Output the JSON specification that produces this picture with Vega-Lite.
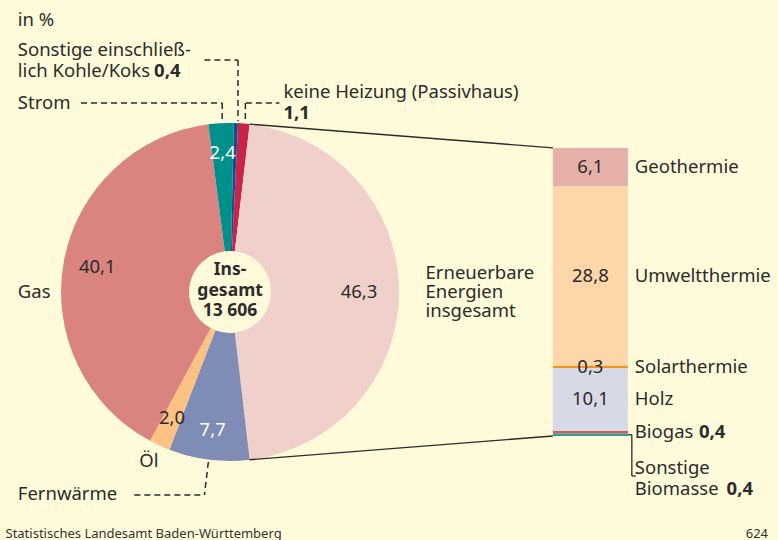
{
  "$schema": "https://vega.github.io/schema/vega-lite/v6.json",
  "width": 778,
  "height": 540,
  "padding": 0,
  "autosize": {"type": "none"},
  "background": "#FFFBDA",
  "config": {
    "view": {"stroke": null},
    "locale": {"number": {"decimal": ",", "thousands": " ", "grouping": [3], "currency": ["", " €"]}},
    "text": {"font": "Noto Sans", "fontSize": 18.5, "color": "#2b2b2b", "align": "left", "baseline": "middle"},
    "rule": {"color": "#2b2b2b"}
  },
  "datasets": {
    "heizung": [
      {"Heizenergie": "keine Heizung (Passivhaus)", "Anteil": 1.1, "Nr": 1},
      {"Heizenergie": "Erneuerbare Energien insgesamt", "Anteil": 46.3, "Nr": 2},
      {"Heizenergie": "Fernwärme", "Anteil": 7.7, "Nr": 3},
      {"Heizenergie": "Öl", "Anteil": 2.0, "Nr": 4},
      {"Heizenergie": "Gas", "Anteil": 40.1, "Nr": 5},
      {"Heizenergie": "Strom", "Anteil": 2.4, "Nr": 6},
      {"Heizenergie": "Sonstige einschließlich Kohle/Koks", "Anteil": 0.4, "Nr": 7}
    ],
    "erneuerbar": [
      {"Energie": "Sonstige Biomasse", "Anteil": 0.4, "Nr": 1},
      {"Energie": "Biogas", "Anteil": 0.4, "Nr": 2},
      {"Energie": "Holz", "Anteil": 10.1, "Nr": 3},
      {"Energie": "Solarthermie", "Anteil": 0.3, "Nr": 4},
      {"Energie": "Umweltthermie", "Anteil": 28.8, "Nr": 5},
      {"Energie": "Geothermie", "Anteil": 6.1, "Nr": 6}
    ]
  },
  "layer": [
    {
      "data": {"name": "heizung"},
      "mark": {"type": "arc", "outerRadius": 169, "innerRadius": 41},
      "encoding": {
        "x": {"datum": 0, "type": "quantitative", "scale": {"domain": [-36.48, 88], "nice": false, "zero": false}, "axis": null},
        "y": {"datum": 23.05, "type": "quantitative", "scale": {"domain": [-16.64, 69.76], "nice": false, "zero": false}, "axis": null},
        "theta": {"field": "Anteil", "type": "quantitative", "stack": true, "scale": {"range": [0.0471, 6.3303]}},
        "order": {"field": "Nr", "type": "quantitative", "sort": "ascending"},
        "color": {
          "field": "Heizenergie", "type": "nominal", "legend": null,
          "scale": {
            "domain": ["keine Heizung (Passivhaus)", "Erneuerbare Energien insgesamt", "Fernwärme", "Öl", "Gas", "Strom", "Sonstige einschließlich Kohle/Koks"],
            "range": ["#C8234B", "#F0D0CB", "#7F8CB5", "#FCC283", "#D9847E", "#00908B", "#1D4A8E"]
          }
        }
      }
    },
    {
      "data": {"name": "heizung"},
      "mark": {"type": "text", "align": "center", "radius": {"expr": "datum.Nr == 2 ? 129 : datum.Nr == 5 ? 135 : 139"}},
      "encoding": {
        "x": {"datum": 0},
        "y": {"datum": 23.05},
        "theta": {"field": "Anteil", "type": "quantitative", "stack": true},
        "order": {"field": "Nr", "type": "quantitative", "sort": "ascending"},
        "detail": {"field": "Heizenergie"},
        "text": {"condition": {"test": "datum.Nr == 1 || datum.Nr == 7", "value": ""}, "field": "Anteil", "type": "quantitative", "format": ".1f"},
        "color": {"condition": {"test": "datum.Nr == 3 || datum.Nr == 6", "value": "#ffffff"}, "value": "#2b2b2b"}
      }
    },
    {
      "data": {"name": "erneuerbar"},
      "mark": {"type": "bar", "orient": "vertical"},
      "encoding": {
        "x": {"datum": 52.32},
        "x2": {"datum": 64.48},
        "y": {"field": "Anteil", "type": "quantitative", "stack": "zero"},
        "order": {"field": "Nr", "type": "quantitative", "sort": "ascending"},
        "color": {
          "field": "Energie", "type": "nominal", "legend": null,
          "scale": {
            "domain": ["Sonstige Biomasse", "Biogas", "Holz", "Solarthermie", "Umweltthermie", "Geothermie"],
            "range": ["#2C9F9A", "#C65F5C", "#D8D9E6", "#F5921E", "#FDD6AA", "#E6B0AA"]
          }
        }
      }
    },
    {
      "data": {"name": "erneuerbar"},
      "mark": {"type": "text", "align": "center"},
      "encoding": {
        "x": {"datum": 58.4},
        "y": {"field": "Anteil", "type": "quantitative", "stack": "zero", "bandPosition": 0.5},
        "order": {"field": "Nr", "type": "quantitative", "sort": "ascending"},
        "detail": {"field": "Energie"},
        "text": {"condition": {"test": "datum.Nr <= 2", "value": ""}, "field": "Anteil", "type": "quantitative", "format": ".1f"}
      }
    },
    {
      "data": {"name": "erneuerbar"},
      "mark": {"type": "text", "align": "left"},
      "encoding": {
        "x": {"datum": 65.6},
        "y": {"field": "Anteil", "type": "quantitative", "stack": "zero", "bandPosition": 0.5},
        "order": {"field": "Nr", "type": "quantitative", "sort": "ascending"},
        "detail": {"field": "Energie"},
        "text": {"condition": {"test": "datum.Nr == 1", "value": ""}, "field": "Energie", "type": "nominal"}
      }
    },
    {
      "data": {"name": "erneuerbar"},
      "mark": {"type": "text", "align": "left", "fontWeight": "bold"},
      "encoding": {
        "x": {"datum": 76.0},
        "y": {"field": "Anteil", "type": "quantitative", "stack": "zero", "bandPosition": 0.5},
        "order": {"field": "Nr", "type": "quantitative", "sort": "ascending"},
        "detail": {"field": "Energie"},
        "text": {"condition": {"test": "datum.Nr != 2", "value": ""}, "field": "Anteil", "type": "quantitative", "format": ".1f"}
      }
    },
    {
      "data": {"values": [{}]},
      "mark": {"type": "text", "align": "center", "fontWeight": "bold", "fontSize": 17.5, "lineHeight": 20.5},
      "encoding": {"x": {"datum": 0}, "y": {"datum": 26.56}, "text": {"value": ["Ins-", "gesamt", "13 606"]}}
    },
    {
      "data": {"values": [{}]},
      "mark": {"type": "text"},
      "encoding": {"x": {"datum": -34.4}, "y": {"datum": 66.56}, "text": {"value": "in %"}}
    },
    {
      "data": {"values": [{}]},
      "mark": {"type": "text", "lineHeight": 21},
      "encoding": {"x": {"datum": -34.4}, "y": {"datum": 61.76}, "text": {"value": ["Sonstige einschließ-", "lich Kohle/Koks"]}}
    },
    {
      "data": {"values": [{}]},
      "mark": {"type": "text", "fontWeight": "bold"},
      "encoding": {"x": {"datum": -12.32}, "y": {"datum": 58.4}, "text": {"value": "0,4"}}
    },
    {
      "data": {"values": [{}]},
      "mark": {"type": "text"},
      "encoding": {"x": {"datum": -34.4}, "y": {"datum": 53.28}, "text": {"value": "Strom"}}
    },
    {
      "data": {"values": [{}]},
      "mark": {"type": "text"},
      "encoding": {"x": {"datum": 8.64}, "y": {"datum": 55.04}, "text": {"value": "keine Heizung (Passivhaus)"}}
    },
    {
      "data": {"values": [{}]},
      "mark": {"type": "text", "fontWeight": "bold"},
      "encoding": {"x": {"datum": 8.64}, "y": {"datum": 51.68}, "text": {"value": "1,1"}}
    },
    {
      "data": {"values": [{}]},
      "mark": {"type": "text"},
      "encoding": {"x": {"datum": -34.4}, "y": {"datum": 23.04}, "text": {"value": "Gas"}}
    },
    {
      "data": {"values": [{}]},
      "mark": {"type": "text"},
      "encoding": {"x": {"datum": -14.72}, "y": {"datum": -4.0}, "text": {"value": "Öl"}}
    },
    {
      "data": {"values": [{}]},
      "mark": {"type": "text"},
      "encoding": {"x": {"datum": -34.4}, "y": {"datum": -9.28}, "text": {"value": "Fernwärme"}}
    },
    {
      "data": {"values": [{}]},
      "mark": {"type": "text", "lineHeight": 19},
      "encoding": {"x": {"datum": 31.68}, "y": {"datum": 26.08}, "text": {"value": ["Erneuerbare", "Energien", "insgesamt"]}}
    },
    {
      "data": {"values": [{}]},
      "mark": {"type": "text", "lineHeight": 21},
      "encoding": {"x": {"datum": 65.6}, "y": {"datum": -5.12}, "text": {"value": ["Sonstige", "Biomasse"]}}
    },
    {
      "data": {"values": [{}]},
      "mark": {"type": "text", "fontWeight": "bold"},
      "encoding": {"x": {"datum": 80.48}, "y": {"datum": -8.48}, "text": {"value": "0,4"}}
    },
    {
      "data": {"values": [{}]},
      "mark": {"type": "text", "fontSize": 13, "baseline": "alphabetic", "color": "#333333"},
      "encoding": {"x": {"datum": -36.4}, "y": {"datum": -16.32}, "text": {"value": "Statistisches Landesamt Baden-Württemberg"}}
    },
    {
      "data": {"values": [{}]},
      "mark": {"type": "text", "fontSize": 13, "baseline": "alphabetic", "align": "right", "color": "#333333"},
      "encoding": {"x": {"datum": 87.2}, "y": {"datum": -16.32}, "text": {"value": "624"}}
    },
    {
      "data": {"values": [{}]},
      "mark": {"type": "rule", "strokeWidth": 1.3},
      "encoding": {"x": {"datum": 3.14}, "y": {"datum": 49.9}, "x2": {"datum": 52.32}, "y2": {"datum": 46.1}}
    },
    {
      "data": {"values": [{}]},
      "mark": {"type": "rule", "strokeWidth": 1.3},
      "encoding": {"x": {"datum": 3.14}, "y": {"datum": -3.8}, "x2": {"datum": 52.32}, "y2": {"datum": 0}}
    },
    {
      "data": {"values": [{}]},
      "mark": {"type": "rule", "strokeWidth": 1.3},
      "encoding": {"x": {"datum": 64.48}, "y": {"datum": 0.2}, "x2": {"datum": 65.12}, "y2": {"datum": 0.2}}
    },
    {
      "data": {"values": [{}]},
      "mark": {"type": "rule", "strokeWidth": 1.3},
      "encoding": {"x": {"datum": 65.12}, "y": {"datum": 0.2}, "x2": {"datum": 65.12}, "y2": {"datum": -6.4}}
    },
    {
      "data": {"values": [{}]},
      "mark": {"type": "rule", "strokeWidth": 1.3},
      "encoding": {"x": {"datum": 65.12}, "y": {"datum": -6.4}, "x2": {"datum": 65.76}, "y2": {"datum": -6.4}}
    },
    {
      "data": {"values": [{}]},
      "mark": {"type": "rule", "strokeWidth": 1.5, "strokeDash": [6, 4]},
      "encoding": {"x": {"datum": -4.16}, "y": {"datum": 60.16}, "x2": {"datum": 1.28}, "y2": {"datum": 60.16}}
    },
    {
      "data": {"values": [{}]},
      "mark": {"type": "rule", "strokeWidth": 1.5, "strokeDash": [6, 4]},
      "encoding": {"x": {"datum": 1.28}, "y": {"datum": 60.16}, "x2": {"datum": 1.28}, "y2": {"datum": 50.4}}
    },
    {
      "data": {"values": [{}]},
      "mark": {"type": "rule", "strokeWidth": 1.5, "strokeDash": [6, 4]},
      "encoding": {"x": {"datum": -24.16}, "y": {"datum": 53.28}, "x2": {"datum": -1.28}, "y2": {"datum": 53.28}}
    },
    {
      "data": {"values": [{}]},
      "mark": {"type": "rule", "strokeWidth": 1.5, "strokeDash": [6, 4]},
      "encoding": {"x": {"datum": -1.28}, "y": {"datum": 53.28}, "x2": {"datum": -1.28}, "y2": {"datum": 50.24}}
    },
    {
      "data": {"values": [{}]},
      "mark": {"type": "rule", "strokeWidth": 1.5, "strokeDash": [6, 4]},
      "encoding": {"x": {"datum": 2.56}, "y": {"datum": 53.28}, "x2": {"datum": 8.0}, "y2": {"datum": 53.28}}
    },
    {
      "data": {"values": [{}]},
      "mark": {"type": "rule", "strokeWidth": 1.5, "strokeDash": [6, 4]},
      "encoding": {"x": {"datum": 2.48}, "y": {"datum": 53.28}, "x2": {"datum": 2.48}, "y2": {"datum": 50.4}}
    },
    {
      "data": {"values": [{}]},
      "mark": {"type": "rule", "strokeWidth": 1.5, "strokeDash": [6, 4]},
      "encoding": {"x": {"datum": -3.52}, "y": {"datum": -4.16}, "x2": {"datum": -4.16}, "y2": {"datum": -9.44}}
    },
    {
      "data": {"values": [{}]},
      "mark": {"type": "rule", "strokeWidth": 1.5, "strokeDash": [6, 4]},
      "encoding": {"x": {"datum": -15.52}, "y": {"datum": -9.44}, "x2": {"datum": -4.16}, "y2": {"datum": -9.44}}
    }
  ],
  "resolve": {"scale": {"color": "independent"}}
}
